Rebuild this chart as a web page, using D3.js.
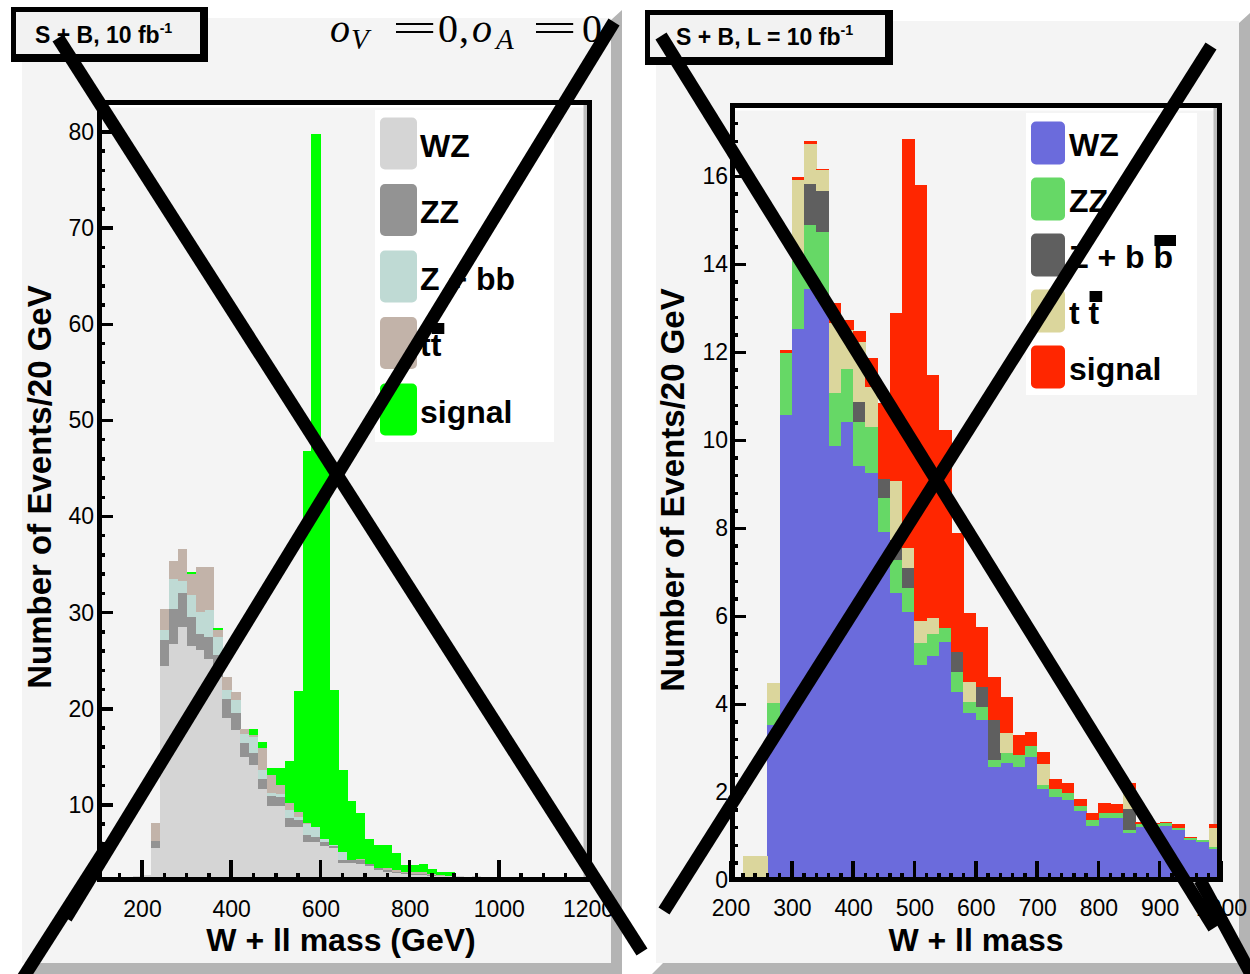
<!DOCTYPE html>
<html>
<head>
<meta charset="utf-8">
<script src="https://cdn.jsdelivr.net/npm/d3@7"></script>
<style>
  body { margin: 0; background: #ffffff; }
  svg { display: block; }
  text { font-family: "Liberation Sans", Arial, Helvetica, sans-serif; }
</style>
</head>
<body>
<svg id="chart" width="1250" height="974"></svg>
<script>
// ---------------- data ----------------
// Process keys, stacked bottom to top
const processKeys = ["WZ", "ZZ", "Zbb", "tt", "signal"];
const binWidth = 20; // GeV per bin

// Left panel: events per 20 GeV bin, first bin starts at 180 GeV
const leftFirstBin = 180;
const leftWZ = [2.6, 2.7, 5.5, 24.4, 26.7, 28.5, 26.5, 26.1, 25.2, 23.3,
                19.0, 17.8, 15.0, 14.2, 11.7, 9.9, 9.9, 7.7, 7.7, 6.1,
                6.1, 5.7, 5.5, 4.0, 4.0, 3.9, 3.6, 3.2, 3.0, 2.9,
                2.8, 2.7, 2.7, 2.6, 2.6, 2.6, 2.6, 2.5, 2.6, 2.5,
                2.5, 2.5, 2.4, 2.5, 2.4, 2.4, 2.4, 2.4, 2.4, 2.4,
                2.4];
const leftZZ = [0, 0, 0.7, 2.8, 3.7, 3.5, 3.0, 1.7, 2.3, 2.3,
                2.0, 1.8, 1.4, 1.2, 1.0, 1.0, 0.9, 0.9, 0.7, 0.8,
                0.6, 0.4, 0.2, 0.3, 0.3, 0.4, 0.2, 0.2, 0.2, 0.1,
                0.1, 0.1, 0.1, 0.1, 0, 0, 0, 0, 0, 0,
                0, 0, 0, 0, 0, 0, 0, 0, 0, 0,
                0];
const leftZbb = [0, 0, 0, 1.0, 3.1, 1.3, 2.3, 2.3, 2.8, 1.9,
                 1.0, 1.3, 1.0, 1.7, 0.9, 0.3, 0.3, 0.9, 0.3, 1.1,
                 1.0, 0.4, 0.1, 0.8, 0, 0, 0, 0, 0, 0,
                 0, 0, 0, 0, 0, 0, 0, 0, 0, 0,
                 0, 0, 0, 0, 0, 0, 0, 0, 0, 0,
                 0];
const leftTT = [0, 0, 1.9, 2.2, 1.9, 3.3, 2.2, 4.6, 4.4, 0.7,
                1.3, 0.8, 0.5, 0.2, 2.3, 1.9, 1.0, 0.7, 0.6, 0.1,
                0, 0, 0, 0, 0, 0.1, 0, 0, 0.2, 0.2,
                0.1, 0.2, 0.2, 0.1, 0.1, 0, 0, 0, 0, 0,
                0, 0, 0, 0, 0, 0, 0, 0, 0, 0,
                0];
const leftSignal = [0, 0, 0, 0, 0, 0, 0.2, 0, 0, 0.2,
                    0, 0, 0, 0.6, 0.6, 0.7, 1.7, 4.4, 12.5, 38.7,
                    72.1, 39.5, 16.2, 8.5, 6.1, 4.8, 2.7, 2.4, 2.4, 1.75,
                    0.7, 0.7, 0.9, 0.5, 0.35, 0.4, 0, 0, 0, 0,
                    0, 0, 0, 0, 0, 0, 0, 0, 0, 0,
                    0];

// Right panel: events per 20 GeV bin, first bin starts at 220 GeV
const rightFirstBin = 220;
const rightWZ = [0, 0, 3.53, 10.58, 12.53, 13.44, 13.2, 9.88, 10.43, 9.42,
                 9.27, 7.93, 6.53, 6.11, 4.9, 5.1, 5.43, 4.29, 3.8, 3.65,
                 2.59, 2.66, 2.59, 2.81, 2.09, 1.9, 1.83, 1.59, 1.25, 1.41,
                 1.41, 1.09, 1.22, 1.22, 1.24, 1.15, 0.92, 0.88, 0.71];
const rightZZ = [0, 0, 0.5, 1.42, 1.55, 1.46, 1.55, 1.19, 1.19, 1.01,
                 1.04, 0.76, 0.75, 0.53, 0.5, 0.5, 0.3, 0.46, 0.26, 0.3,
                 0.15, 0.23, 0.26, 0.25, 0.08, 0.17, 0.15, 0.1, 0.13, 0.12,
                 0.12, 0.06, 0.06, 0.06, 0.06, 0.05, 0.05, 0.04, 0.06];
const rightZbb = [0, 0, 0, 0, 0, 0.92, 0.91, 0, 0, 0.45,
                  0, 0.43, 0.46, 0.46, 0, 0, 0, 0.45, 0, 0.44,
                  0.91, 0, 0, 0, 0, 0, 0, 0, 0, 0,
                  0, 0.47, 0, 0, 0, 0, 0, 0, 0];
const rightTT = [0.55, 0.55, 0.45, 0, 1.84, 0.92, 0.49, 1.61, 0.89, 1.37,
                 0.91, 0, 1.35, 0.45, 0.5, 0.36, 0, 0, 0.46, 0,
                 0, 0.46, 0, 0, 0.48, 0, 0, 0, 0, 0,
                 0, 0.45, 0, 0, 0, 0, 0, 0, 0.43];
const rightSignal = [0, 0, 0, 0.05, 0.06, 0.07, 0.03, 0.44, 0.23, 0.24,
                     0.65, 1.73, 3.81, 9.3, 9.9, 5.53, 4.52, 2.69, 1.55, 1.38,
                     0.98, 0.83, 0.46, 0.32, 0.28, 0.23, 0.24, 0.16, 0.15, 0.24,
                     0.22, 0.15, 0.05, 0.03, 0.04, 0.08, 0.03, 0, 0.08];

// Tick labels
const leftXTickLabels = [200, 400, 600, 800, 1000, 1200];
const leftYTickLabels = [10, 20, 30, 40, 50, 60, 70, 80];
const rightXTickLabels = [200, 300, 400, 500, 600, 700, 800, 900, 1000];
const rightYTickLabels = [0, 2, 4, 6, 8, 10, 12, 14, 16];

// Legend entries (bar: index of the letter carrying an overbar)
const leftLegend = [
  { key: "WZ", label: "WZ" },
  { key: "ZZ", label: "ZZ" },
  { key: "Zbb", label: "Z + bb" },
  { key: "tt", label: "tt", bar: 1 },
  { key: "signal", label: "signal" }
];
const rightLegend = [
  { key: "WZ", label: "WZ" },
  { key: "ZZ", label: "ZZ" },
  { key: "Zbb", label: "Z + b b", bar: 6 },
  { key: "tt", label: "t t", bar: 2 },
  { key: "signal", label: "signal" }
];

// ---------------- drawing ----------------
const svg = d3.select("#chart");
const defs = svg.append("defs");

function rows(first, arrays) {
  return arrays[0].map((_, i) => {
    const r = { start: first + i * binWidth };
    processKeys.forEach((k, j) => r[k] = arrays[j][i]);
    return r;
  });
}

function panelBackground(x0, y0, x1, y1) {
  const d = 11;
  svg.append("polygon")
    .attr("points", [[x1, y0 + 2], [x1 + d, y0 - 8], [x1 + d, y1 + d], [x0 - 4, y1 + d], [x0 + 7, y1], [x1, y1]].map(p => p.join(",")).join(" "))
    .attr("fill", "#b4b4b4");
  svg.append("rect").attr("x", x0).attr("y", y0).attr("width", x1 - x0).attr("height", y1 - y0).attr("fill", "#f4f4f4");
}

function drawPanel(cfg) {
  const { id, frame, x, y, data, colors, xMajors, xMinors, yMajors, yMinors, tick } = cfg;
  const g = svg.append("g").attr("class", id);

  // inner frame shading
  g.append("rect").attr("x", frame.x0).attr("y", frame.y0).attr("width", frame.x1 - frame.x0).attr("height", frame.y1 - frame.y0).attr("fill", "#f4f4f4");
  g.append("line").attr("x1", frame.x0 + 4).attr("x2", frame.x1 - 4).attr("y1", frame.y0 + 6).attr("y2", frame.y0 + 6)
    .attr("stroke", "#ffffff").attr("stroke-width", 3);
  g.append("line").attr("x1", frame.x1 - 6.5).attr("x2", frame.x1 - 6.5).attr("y1", frame.y0 + 5).attr("y2", frame.y1 - 2)
    .attr("stroke", "#bdbdbd").attr("stroke-width", 4);

  // stacked histogram
  defs.append("clipPath").attr("id", "clip-" + id).append("rect")
    .attr("x", frame.x0 + 2).attr("y", frame.y0 + 2).attr("width", frame.x1 - frame.x0 - 4).attr("height", frame.y1 - frame.y0 - 3);
  const stacked = d3.stack().keys(processKeys)(data);
  const bars = g.append("g").attr("clip-path", "url(#clip-" + id + ")").attr("shape-rendering", "crispEdges");
  stacked.forEach(series => {
    bars.append("g").attr("fill", colors[series.key])
      .selectAll("rect")
      .data(series.filter(d => d[1] - d[0] > 0))
      .join("rect")
      .attr("x", d => x(d.data.start))
      .attr("width", d => x(d.data.start + binWidth) - x(d.data.start) + 0.4)
      .attr("y", d => y(d[1]))
      .attr("height", d => Math.max(0, y(d[0]) - y(d[1])));
  });

  // ticks (pointing into the plot)
  const t = g.append("g").attr("stroke", "#000").attr("stroke-width", 3.5).attr("shape-rendering", "crispEdges");
  xMinors.forEach(v => t.append("line").attr("x1", x(v)).attr("x2", x(v)).attr("y1", frame.y1).attr("y2", frame.y1 - tick.xMinor));
  xMajors.forEach(v => t.append("line").attr("x1", x(v)).attr("x2", x(v)).attr("y1", frame.y1).attr("y2", frame.y1 - tick.xMajor));
  yMinors.forEach(v => t.append("line").attr("y1", y(v)).attr("y2", y(v)).attr("x1", frame.x0).attr("x2", frame.x0 + tick.yMinor));
  yMajors.forEach(v => t.append("line").attr("y1", y(v)).attr("y2", y(v)).attr("x1", frame.x0).attr("x2", frame.x0 + tick.yMajor));

  // frame
  g.append("rect").attr("x", frame.x0 + 2.5).attr("y", frame.y0 + 2.5)
    .attr("width", frame.x1 - frame.x0 - 5).attr("height", frame.y1 - frame.y0 - 5)
    .attr("fill", "none").attr("stroke", "#000").attr("stroke-width", 5);

  // tick labels via d3 axes
  const xa = g.append("g").attr("transform", `translate(0,${cfg.xLabelY})`)
    .call(d3.axisBottom(x).tickValues(cfg.xLabels).tickSize(0).tickPadding(0).tickFormat(d3.format("d")));
  xa.select(".domain").remove();
  xa.selectAll("text").attr("font-size", 23).attr("font-family", "Liberation Sans, Arial, sans-serif").attr("fill", "#000");

  const ya = g.append("g").attr("transform", `translate(${cfg.yLabelX},0)`)
    .call(d3.axisLeft(y).tickValues(cfg.yLabels).tickSize(0).tickPadding(0).tickFormat(d3.format("d")));
  ya.select(".domain").remove();
  ya.selectAll("text").attr("font-size", 23).attr("font-family", "Liberation Sans, Arial, sans-serif").attr("fill", "#000");

  // axis titles
  g.append("text").attr("x", cfg.xTitle.x).attr("y", cfg.xTitle.y).attr("text-anchor", "middle")
    .attr("font-size", 32).attr("font-weight", "bold").text(cfg.xTitle.text);
  g.append("text").attr("transform", `translate(${cfg.yTitle.x},${cfg.yTitle.y}) rotate(-90)`).attr("text-anchor", "middle")
    .attr("font-size", 33).attr("font-weight", "bold").text("Number of Events/20 GeV");

  // legend
  const L = cfg.legend;
  g.append("rect").attr("x", L.x0).attr("y", L.y0).attr("width", L.x1 - L.x0).attr("height", L.y1 - L.y0).attr("fill", "#ffffff");
  L.entries.forEach((e, i) => {
    const cy = L.firstCenter + i * L.step;
    g.append("rect").attr("x", L.sx).attr("y", cy - L.sh / 2).attr("width", L.sw).attr("height", L.sh)
      .attr("rx", 5).attr("fill", colors[e.key]);
    const tx = g.append("text").attr("x", L.tx).attr("y", cy + 13).attr("font-size", 32).attr("font-weight", "bold")
      .attr("fill", "#000").text(e.label);
    if (e.bar !== undefined) {
      const node = tx.node();
      const off = node.getSubStringLength(0, e.bar);
      const w = node.getSubStringLength(e.bar, 1);
      g.append("rect").attr("x", L.tx + off + 1).attr("y", cy + 13 - 33).attr("width", w + 2).attr("height", 11).attr("fill", "#000");
    }
  });
}

// panel backgrounds
panelBackground(22, 18, 611, 963);
panelBackground(656, 21, 1239, 963);

// left panel scales
const xLeft = d3.scaleLinear().domain([200, 1200]).range([142, 588]);
const yLeft = d3.scaleLinear().domain([0, 80]).range([901, 132]);
drawPanel({
  id: "left",
  frame: { x0: 97, y0: 100, x1: 592, y1: 882 },
  x: xLeft, y: yLeft,
  data: rows(leftFirstBin, [leftWZ, leftZZ, leftZbb, leftTT, leftSignal]),
  colors: { WZ: "#d5d5d5", ZZ: "#939393", Zbb: "#bfdad4", tt: "#c2b3a9", signal: "#00ff00" },
  xMajors: leftXTickLabels,
  xMinors: d3.range(150, 1200, 50).filter(v => v % 200 !== 0),
  yMajors: leftYTickLabels,
  yMinors: d3.range(4, 83, 2).filter(v => v % 10 !== 0),
  tick: { xMajor: 22, xMinor: 9, yMajor: 16, yMinor: 8 },
  xLabels: leftXTickLabels, xLabelY: 901,
  yLabels: leftYTickLabels, yLabelX: 94,
  xTitle: { x: 341, y: 951, text: "W + ll mass (GeV)" },
  yTitle: { x: 51, y: 487 },
  legend: { x0: 375, y0: 110, x1: 554, y1: 442, sx: 380, sw: 37, sh: 52, firstCenter: 143.5, step: 66.5, tx: 420, entries: leftLegend }
});

// right panel scales
const xRight = d3.scaleLinear().domain([200, 1000]).range([730.5, 1221]);
const yRight = d3.scaleLinear().domain([0, 16]).range([880.5, 176.5]);
drawPanel({
  id: "right",
  frame: { x0: 730, y0: 103, x1: 1222, y1: 882 },
  x: xRight, y: yRight,
  data: rows(rightFirstBin, [rightWZ, rightZZ, rightZbb, rightTT, rightSignal]),
  colors: { WZ: "#6b6bdc", ZZ: "#66d866", Zbb: "#5f5f5f", tt: "#dbd69c", signal: "#ff2600" },
  xMajors: rightXTickLabels,
  xMinors: d3.range(220, 1000, 20).filter(v => v % 100 !== 0),
  yMajors: rightYTickLabels.filter(v => v > 0),
  yMinors: d3.range(0.4, 17.6, 0.4).filter(v => Math.abs(v / 2 - Math.round(v / 2)) > 0.01),
  tick: { xMajor: 21, xMinor: 9, yMajor: 16, yMinor: 8 },
  xLabels: rightXTickLabels, xLabelY: 900,
  yLabels: rightYTickLabels, yLabelX: 728,
  xTitle: { x: 976, y: 951, text: "W + ll mass" },
  yTitle: { x: 684, y: 490 },
  legend: { x0: 1026, y0: 113, x1: 1197, y1: 395, sx: 1031, sw: 34, sh: 43, firstCenter: 143, step: 56, tx: 1069, entries: rightLegend }
});

// title boxes
function titleBox(x0, y0, x1, y1, inset, parts, tx, ty, size) {
  svg.append("rect").attr("x", x0).attr("y", y0).attr("width", x1 - x0).attr("height", y1 - y0).attr("fill", "#000");
  svg.append("rect").attr("x", x0 + inset).attr("y", y0 + inset).attr("width", x1 - x0 - 2 * inset - 3).attr("height", y1 - y0 - 2 * inset - 3).attr("fill", "#f2f2f2");
  const t = svg.append("text").attr("x", tx).attr("y", ty).attr("font-size", size).attr("font-weight", "bold");
  t.append("tspan").text(parts[0]);
  t.append("tspan").attr("font-size", size * 0.62).attr("dy", -size * 0.42).text(parts[1]);
}
titleBox(11, 7, 208, 62, 5, ["S + B, 10 fb", "-1"], 35, 43, 23);
titleBox(645, 10, 893, 65, 5, ["S + B, L = 10 fb", "-1"], 676, 45, 23);

// coupling label (serif, math style)
const mathPieces = [
  { t: "o", x: 330, y: 42, size: 40, it: true },
  { t: "V", x: 351, y: 49, size: 29, it: true },
  { t: "=", x: 392, y: 42, size: 40, sx: 2.0 },
  { t: "0", x: 438, y: 42, size: 40 },
  { t: ",", x: 459, y: 42, size: 40 },
  { t: "o", x: 472, y: 42, size: 40, it: true },
  { t: "A", x: 496, y: 49, size: 29, it: true },
  { t: "=", x: 532, y: 42, size: 40, sx: 2.0 },
  { t: "0", x: 582, y: 42, size: 40 }
];
const math = svg.append("g");
mathPieces.forEach(p => {
  math.append("text")
    .attr("transform", `translate(${p.x},${p.y}) scale(${p.sx || 1},1)`)
    .attr("font-size", p.size)
    .attr("font-style", p.it ? "italic" : "normal")
    .style("font-family", "'Liberation Serif', 'DejaVu Serif', serif")
    .text(p.t);
});

// crossing strokes over both panels
const strokes = [
  [[58, 38], [642, 952]],
  [[614, 22], [66, 918]],
  [[108, 845], [14, 992]],
  [[1211, 46], [664, 911]],
  [[661, 36], [1214, 928]],
  [[1200, 880], [1252, 976]]
];
svg.append("g").selectAll("line").data(strokes).join("line")
  .attr("x1", d => d[0][0]).attr("y1", d => d[0][1])
  .attr("x2", d => d[1][0]).attr("y2", d => d[1][1])
  .attr("stroke", "#000").attr("stroke-width", 13).attr("stroke-linecap", "butt");
</script>
</body>
</html>
